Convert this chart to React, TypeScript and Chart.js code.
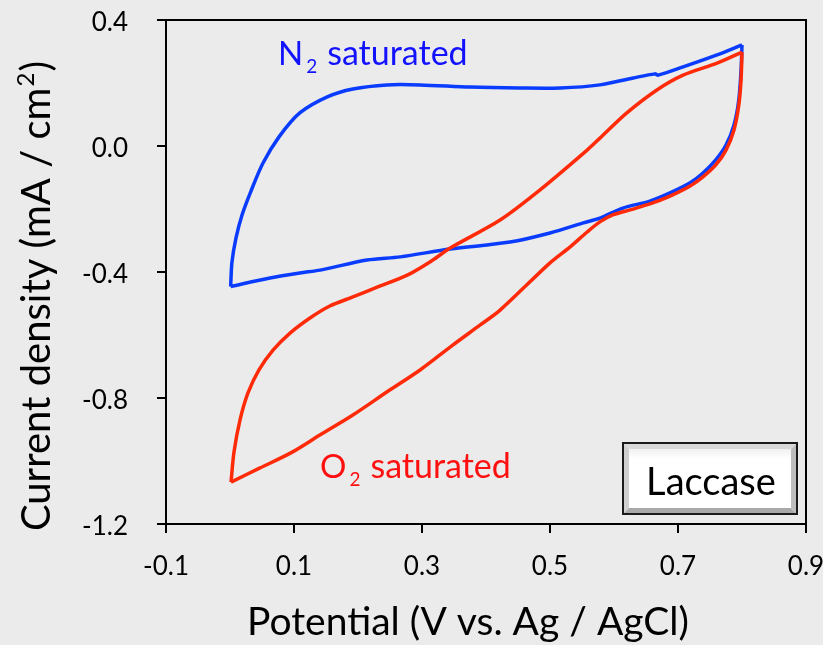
import { useEffect, useRef } from "react";
import { Chart, registerables } from "chart.js";

Chart.register(...registerables);

const FONT = "Lato, 'Open Sans', sans-serif";

// Axis tick values
const xTickValues = [-0.1, 0.1, 0.3, 0.5, 0.7, 0.9];
const yTickValues = [-1.2, -0.8, -0.4, 0.0, 0.4];

// N2 saturated – forward sweep (0 V -> 0.8 V)
const n2ForwardPotential = [0.001, 0.0031, 0.0094, 0.0188, 0.0328, 0.0516, 0.0766, 0.109, 0.152, 0.192, 0.245, 0.297, 0.375, 0.453, 0.516, 0.578, 0.630, 0.664, 0.669, 0.708, 0.761, 0.800];
const n2ForwardCurrent = [-0.446, -0.368, -0.292, -0.219, -0.143, -0.054, 0.029, 0.105, 0.156, 0.181, 0.194, 0.194, 0.187, 0.184, 0.184, 0.194, 0.216, 0.229, 0.225, 0.251, 0.289, 0.321];
// N2 saturated – reverse sweep (0.8 V -> 0 V)
const n2ReversePotential = [0.800, 0.7985, 0.795, 0.7875, 0.775, 0.759, 0.739, 0.719, 0.6875, 0.656, 0.614, 0.578, 0.552, 0.500, 0.4375, 0.344, 0.266, 0.214, 0.141, 0.109, 0.0625, 0.001];
const n2ReverseCurrent = [0.321, 0.241, 0.146, 0.067, 0.003, -0.044, -0.086, -0.117, -0.149, -0.175, -0.197, -0.229, -0.244, -0.276, -0.305, -0.327, -0.352, -0.362, -0.394, -0.403, -0.419, -0.446];

// O2 saturated – forward sweep
const o2ForwardPotential = [0.0016, 0.0063, 0.0156, 0.0281, 0.0453, 0.0672, 0.0938, 0.125, 0.156, 0.192, 0.230, 0.277, 0.317, 0.344, 0.422, 0.484, 0.558, 0.578, 0.620, 0.667, 0.708, 0.761, 0.800];
const o2ForwardCurrent = [-1.067, -0.971, -0.870, -0.784, -0.711, -0.648, -0.594, -0.546, -0.508, -0.479, -0.448, -0.410, -0.362, -0.324, -0.235, -0.140, -0.013, 0.025, 0.105, 0.178, 0.225, 0.263, 0.298];
// O2 saturated – reverse sweep
const o2ReversePotential = [0.800, 0.7985, 0.795, 0.7875, 0.775, 0.759, 0.739, 0.719, 0.6875, 0.656, 0.625, 0.598, 0.578, 0.558, 0.531, 0.500, 0.422, 0.391, 0.348, 0.297, 0.245, 0.192, 0.141, 0.098, 0.047, 0.0016];
const o2ReverseCurrent = [0.298, 0.210, 0.130, 0.051, -0.013, -0.060, -0.098, -0.127, -0.159, -0.184, -0.203, -0.219, -0.241, -0.273, -0.321, -0.371, -0.521, -0.568, -0.632, -0.711, -0.781, -0.854, -0.917, -0.971, -1.022, -1.067];

// Text annotations (data coordinates of the label's left baseline)
const n2LabelPos = { x: 0.075, y: 0.257 };
const o2LabelPos = { x: 0.1406, y: -1.054 };
const boxLabel = "Laccase";
const xTitle = "Potential (V vs. Ag / AgCl)";

const BLUE_LINE = "#0a3cff";
const RED_LINE = "#ff2a08";
const BLUE_TEXT = "#1212ff";
const RED_TEXT = "#ff1010";

function toPoints(vs: number[], is: number[]) {
  return vs.map((v, k) => ({ x: v, y: is[k] }));
}

function drawSubscripted(ctx: CanvasRenderingContext2D, main: string, sub: string, rest: string, x: number, y: number, color: string) {
  ctx.fillStyle = color;
  ctx.textAlign = "left";
  ctx.textBaseline = "alphabetic";
  ctx.font = `33px ${FONT}`;
  ctx.fillText(main, x, y);
  let cx = x + ctx.measureText(main).width + 3;
  ctx.font = `19px ${FONT}`;
  ctx.fillText(sub, cx, y + 8);
  cx += ctx.measureText(sub).width + 10;
  ctx.font = `34px ${FONT}`;
  ctx.fillText(rest, cx, y);
}

function poly(ctx: CanvasRenderingContext2D, pts: number[][], color: string) {
  ctx.beginPath();
  ctx.moveTo(pts[0][0], pts[0][1]);
  for (let k = 1; k < pts.length; k++) ctx.lineTo(pts[k][0], pts[k][1]);
  ctx.closePath();
  ctx.fillStyle = color;
  ctx.fill();
}

const decorPlugin = {
  id: "cvDecor",
  afterDraw(chart: any) {
    const { ctx, chartArea: a, scales } = chart;
    const xs = scales.x;
    const ys = scales.y;
    ctx.save();

    // frame
    ctx.strokeStyle = "#000";
    ctx.lineWidth = 2;
    ctx.strokeRect(a.left, a.top, a.right - a.left, a.bottom - a.top);

    // series labels
    drawSubscripted(ctx, "N", "2", "saturated", xs.getPixelForValue(n2LabelPos.x), ys.getPixelForValue(n2LabelPos.y), BLUE_TEXT);
    drawSubscripted(ctx, "O", "2", "saturated", xs.getPixelForValue(o2LabelPos.x), ys.getPixelForValue(o2LabelPos.y), RED_TEXT);

    // Laccase box
    const bw = 176, bh = 73;
    const bx = a.right - 8 - bw;
    const by = a.bottom - 9 - bh;
    ctx.fillStyle = "#1a1a1a";
    ctx.fillRect(bx, by, bw, bh);
    const o = 2, b = 5;
    const L = bx + o, T = by + o, R = bx + bw - o, B = by + bh - o;
    ctx.fillStyle = "#ffffff";
    ctx.fillRect(L, T, R - L, B - T);
    poly(ctx, [[L, T], [R, T], [R - b, T + b], [L + b, T + b]], "#d9d9d9");
    poly(ctx, [[L, T], [L + b, T + b], [L + b, B - b], [L, B]], "#cfcfcf");
    poly(ctx, [[L, B], [L + b, B - b], [R - b, B - b], [R, B]], "#a9a9a9");
    poly(ctx, [[R, T], [R, B], [R - b, B - b], [R - b, T + b]], "#bdbdbd");
    const g = ctx.createLinearGradient(0, T + b, 0, T + b + 10);
    g.addColorStop(0, "#f0f0f0");
    g.addColorStop(1, "#ffffff");
    ctx.fillStyle = g;
    ctx.fillRect(L + b, T + b, R - L - 2 * b, B - T - 2 * b);
    ctx.fillStyle = "#000";
    ctx.font = `38px ${FONT}`;
    ctx.textAlign = "center";
    ctx.textBaseline = "alphabetic";
    ctx.fillText(boxLabel, bx + bw / 2 + 1, by + 53);

    // x-axis title
    ctx.font = `39px ${FONT}`;
    ctx.fillStyle = "#000";
    ctx.textAlign = "center";
    ctx.fillText(xTitle, (a.left + a.right) / 2 - 18, a.bottom + 111);

    // y-axis title with superscript
    ctx.save();
    ctx.translate(a.left - 116, (a.top + a.bottom) / 2 + 24);
    ctx.rotate(-Math.PI / 2);
    ctx.textAlign = "left";
    const p1 = "Current density (mA / cm";
    const sup = "2";
    const p2 = ")";
    ctx.font = `40px ${FONT}`;
    const w1 = ctx.measureText(p1).width;
    const w3 = ctx.measureText(p2).width;
    ctx.font = `24px ${FONT}`;
    const w2 = ctx.measureText(sup).width + 2;
    let cx = -(w1 + w2 + w3) / 2;
    ctx.font = `40px ${FONT}`;
    ctx.fillText(p1, cx, 0);
    cx += w1;
    ctx.font = `24px ${FONT}`;
    ctx.fillText(sup, cx + 1, -16);
    cx += w2;
    ctx.font = `40px ${FONT}`;
    ctx.fillText(p2, cx, 0);
    ctx.restore();

    ctx.restore();
  },
};

export default function App() {
  const canvasRef = useRef<HTMLCanvasElement | null>(null);

  useEffect(() => {
    if (!canvasRef.current) return;
    const line = (data: any[], color: string, order: number) => ({
      data,
      borderColor: color,
      backgroundColor: color,
      borderWidth: 3.5,
      pointRadius: 0,
      showLine: true,
      tension: 0.3,
      fill: false,
      order,
    });
    const chart = new Chart(canvasRef.current, {
      type: "scatter",
      data: {
        datasets: [
          line(toPoints(o2ForwardPotential, o2ForwardCurrent), RED_LINE, 0),
          line(toPoints(o2ReversePotential, o2ReverseCurrent), RED_LINE, 0),
          line(toPoints(n2ForwardPotential, n2ForwardCurrent), BLUE_LINE, 1),
          line(toPoints(n2ReversePotential, n2ReverseCurrent), BLUE_LINE, 1),
        ],
      },
      options: {
        animation: false,
        responsive: false,
        devicePixelRatio: 1,
        layout: { padding: { top: 20, right: 17, left: 0, bottom: 0 } },
        plugins: { legend: { display: false }, tooltip: { enabled: false } },
        scales: {
          x: {
            type: "linear",
            min: -0.1,
            max: 0.9,
            afterFit: (s: any) => { s.height = 121; s.paddingLeft = 0; s.paddingRight = 0; },
            afterBuildTicks: (s: any) => { s.ticks = xTickValues.map((v) => ({ value: v })); },
            border: { display: false },
            grid: { drawOnChartArea: false, drawTicks: true, tickLength: 9, color: "#000", lineWidth: 2 },
            ticks: {
              color: "#000",
              font: { family: FONT, size: 26 },
              padding: 18,
              maxRotation: 0,
              callback: (v: any) => Number(v).toFixed(1),
            },
          },
          y: {
            type: "linear",
            min: -1.2,
            max: 0.4,
            afterFit: (s: any) => { s.width = 166; s.paddingTop = 0; s.paddingBottom = 0; },
            afterBuildTicks: (s: any) => { s.ticks = yTickValues.map((v) => ({ value: v })); },
            border: { display: false },
            grid: { drawOnChartArea: false, drawTicks: true, tickLength: 9, color: "#000", lineWidth: 2 },
            ticks: {
              color: "#000",
              font: { family: FONT, size: 26 },
              padding: 29,
              labelOffset: 3,
              callback: (v: any) => Number(v).toFixed(1),
            },
          },
        },
      },
      plugins: [decorPlugin],
    });
    return () => chart.destroy();
  }, []);

  return (
    <div style={{ position: "fixed", left: 0, top: 0, width: 823, height: 645, background: "#ebebeb" }}>
      <canvas ref={canvasRef} width={823} height={645} style={{ display: "block" }} />
    </div>
  );
}
